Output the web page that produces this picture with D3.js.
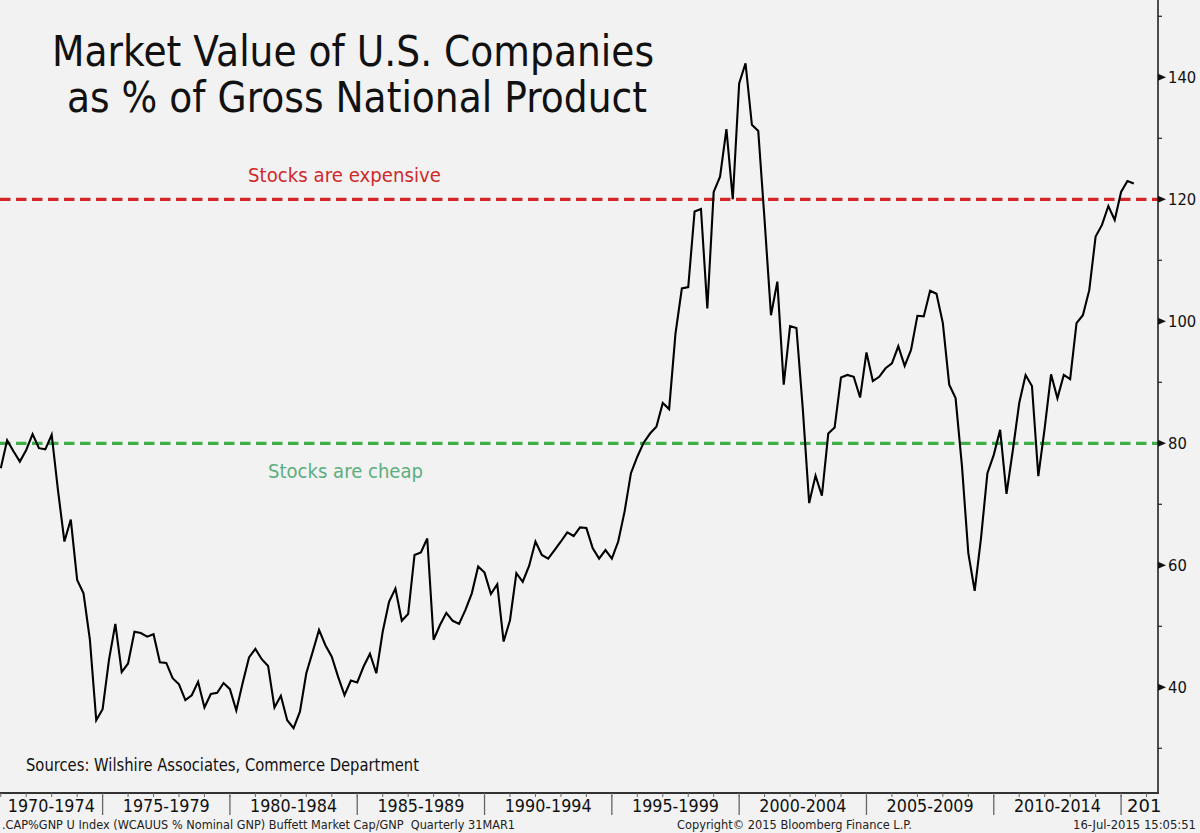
<!DOCTYPE html>
<html><head><meta charset="utf-8">
<script src="https://cdn.jsdelivr.net/npm/d3@7"></script>
<style>html,body{margin:0;padding:0;background:#f2f2f2;}svg{display:block;}</style>
</head><body>
<svg id="chart" width="1200" height="833"></svg>
<script>
// ---- data ----
const startYear = 1970, startQuarter = 4; // first observation: Q4 1970 (quarter-end)
const values = [
  75.9, 80.5, 78.7, 77.0, 78.9, 81.5, 79.2, 79.0, 81.4, 72.2,
  63.9, 67.5, 57.6, 55.4, 47.8, 34.6, 36.4, 44.5, 50.4, 42.5,
  43.9, 49.1, 48.9, 48.3, 48.7, 44.1, 44.0, 41.5, 40.5, 37.9,
  38.7, 40.9, 36.7, 38.9, 39.1, 40.7, 39.7, 36.2, 40.7, 44.9,
  46.3, 44.6, 43.5, 36.7, 38.6, 34.6, 33.3, 36.0, 42.3, 45.8,
  49.4, 46.9, 45.0, 41.7, 38.7, 41.1, 40.8, 43.4, 45.5, 42.3,
  49.1, 54.0, 56.2, 50.9, 52.0, 61.7, 62.1, 64.4, 47.8, 50.2,
  52.2, 50.9, 50.4, 52.7, 55.4, 59.8, 58.8, 55.3, 56.9, 47.5,
  51.0, 58.7, 57.3, 59.9, 63.9, 61.7, 61.1, 62.5, 63.9, 65.4,
  64.8, 66.2, 66.1, 62.8, 61.1, 62.5, 61.1, 63.9, 68.8, 75.1,
  77.8, 80.1, 81.6, 82.7, 86.6, 85.6, 98.0, 105.4, 105.6, 118.0,
  118.4, 102.1, 121.2, 123.7, 131.5, 120.0, 139.0, 142.3, 132.2, 131.2,
  116.5, 101.0, 106.5, 89.6, 99.2, 98.9, 85.6, 70.2, 74.7, 71.4,
  81.6, 82.6, 90.8, 91.2, 90.9, 87.5, 94.9, 90.2, 90.9, 92.3,
  93.1, 95.9, 92.7, 95.3, 100.9, 100.8, 105.0, 104.5, 99.7, 89.6,
  87.4, 76.3, 62.0, 55.8, 64.5, 75.1, 78.1, 82.2, 71.7, 78.9,
  86.6, 91.2, 89.4, 74.6, 82.5, 91.3, 87.4, 91.2, 90.5, 99.7,
  101.0, 105.1, 113.9, 115.8, 118.9, 116.6, 121.2, 123.0, 122.6
];
const periodStarts = [1970, 1975, 1980, 1985, 1990, 1995, 2000, 2005, 2010, 2015];
const periodLabels = ["1970-1974", "1975-1979", "1980-1984", "1985-1989", "1990-1994",
                      "1995-1999", "2000-2004", "2005-2009", "2010-2014", "201"];
const majorTicks = [40, 60, 80, 100, 120, 140];
const minorTicks = [30, 50, 70, 90, 110, 130, 150];
const thresholdValues = [120, 80];
const thresholdLabels = ["Stocks are expensive", "Stocks are cheap"];
const titleLines = ["Market Value of U.S. Companies", "as % of Gross National Product"];
const sourceText = "Sources: Wilshire Associates, Commerce Department";
const footerLeft = ".CAP%GNP U Index (WCAUUS % Nominal GNP) Buffett Market Cap/GNP  Quarterly 31MAR1";
const footerMid = "Copyright\u00A9 2015 Bloomberg Finance L.P.";
const footerRight = "16-Jul-2015 15:05:51";

// ---- layout ----
const plotR = 1158, plotB = 793;
const FONT = "'DejaVu Sans', Verdana, sans-serif";
const svg = d3.select("#chart");
svg.append("rect").attr("width", 1200).attr("height", 833).attr("fill", "#f2f2f2");

const x = d3.scaleLinear().domain([1970.97, 2016.45]).range([0, plotR]);
const y = d3.scaleLinear().domain([22.67, 152.67]).range([plotB, 0]);

const data = values.map((v, i) => {
  const q = startQuarter - 1 + i;
  const yr = startYear + Math.floor(q / 4);
  return { t: yr + (q % 4 + 1) / 4, v };
});

svg.append("clipPath").attr("id", "plotclip")
  .append("rect").attr("x", 0).attr("y", 0).attr("width", plotR).attr("height", plotB);

// title
const titleX = [52, 67], titleY = [66, 111.5], titleW = [602, 580];
svg.selectAll("text.title").data(titleLines).join("text").attr("class", "title")
  .attr("x", (d, i) => titleX[i]).attr("y", (d, i) => titleY[i])
  .attr("textLength", (d, i) => titleW[i]).attr("lengthAdjust", "spacingAndGlyphs")
  .attr("font-family", FONT).attr("font-size", 42).attr("fill", "#111")
  .text(d => d);

// threshold lines
const thColors = ["#d42626", "#3fae48"];
const thTextColors = ["#cf2a2a", "#5cae7d"];
const thTextX = [248, 268], thTextY = [181.5, 478], thTextW = [193, 155];
const g = svg.append("g").attr("clip-path", "url(#plotclip)");
g.selectAll("line.th").data(thresholdValues).join("line").attr("class", "th")
  .attr("x1", 0).attr("x2", plotR)
  .attr("y1", d => y(d)).attr("y2", d => y(d))
  .attr("stroke", (d, i) => thColors[i]).attr("stroke-width", 3.2)
  .attr("stroke-dasharray", "10.5,5.5");
svg.selectAll("text.thl").data(thresholdLabels).join("text").attr("class", "thl")
  .attr("x", (d, i) => thTextX[i]).attr("y", (d, i) => thTextY[i])
  .attr("textLength", (d, i) => thTextW[i]).attr("lengthAdjust", "spacingAndGlyphs")
  .attr("font-family", FONT).attr("font-size", 20)
  .attr("fill", (d, i) => thTextColors[i]).text(d => d);

// data line
const line = d3.line().x(d => x(d.t)).y(d => y(d.v));
g.append("path").datum(data).attr("d", line)
  .attr("fill", "none").attr("stroke", "#000").attr("stroke-width", 2.1)
  .attr("stroke-linejoin", "miter");

// sources
svg.append("text").attr("x", 26).attr("y", 771)
  .attr("textLength", 393).attr("lengthAdjust", "spacingAndGlyphs")
  .attr("font-family", FONT).attr("font-size", 17).attr("fill", "#111")
  .text(sourceText);

// right axis
svg.append("line").attr("x1", plotR).attr("x2", plotR).attr("y1", 0).attr("y2", plotB + 1)
  .attr("stroke", "#222").attr("stroke-width", 1.6);
svg.selectAll("path.maj").data(majorTicks).join("path").attr("class", "maj")
  .attr("d", d => `M${plotR},${y(d) - 3.5}L${plotR + 8},${y(d)}L${plotR},${y(d) + 3.5}Z`)
  .attr("fill", "#111");
svg.selectAll("line.min").data(minorTicks).join("line").attr("class", "min")
  .attr("x1", plotR).attr("x2", plotR + 4).attr("y1", d => y(d)).attr("y2", d => y(d))
  .attr("stroke", "#222").attr("stroke-width", 1.2);
svg.selectAll("text.yl").data(majorTicks).join("text").attr("class", "yl")
  .attr("x", 1168).attr("y", d => y(d)).attr("dy", "0.36em")
  .attr("font-family", FONT).attr("font-size", 15.5).attr("fill", "#111")
  .attr("textLength", d => String(d).length * 9.4).attr("lengthAdjust", "spacingAndGlyphs")
  .text(d => d);

// bottom axis
svg.append("line").attr("x1", 0).attr("x2", plotR + 0.8).attr("y1", plotB).attr("y2", plotB)
  .attr("stroke", "#333").attr("stroke-width", 2);
const years = d3.range(1971, 2017);
svg.selectAll("line.yt").data(years).join("line").attr("class", "yt")
  .attr("x1", d => x(d)).attr("x2", d => x(d)).attr("y1", plotB).attr("y2", plotB + 4)
  .attr("stroke", "#666").attr("stroke-width", 1);
svg.selectAll("line.sep").data(periodStarts.filter(d => x(d) > 0 && x(d) < plotR)).join("line").attr("class", "sep")
  .attr("x1", d => x(d)).attr("x2", d => x(d)).attr("y1", plotB + 2).attr("y2", plotB + 22)
  .attr("stroke", "#666").attr("stroke-width", 1.3);
svg.selectAll("text.xl").data(periodLabels).join("text").attr("class", "xl")
  .each(function (d, i) {
    const a = Math.max(0, x(periodStarts[i]));
    const bRaw = x(periodStarts[i] + 5);
    const el = d3.select(this);
    if (bRaw > plotR) {
      el.attr("x", a + 6).attr("text-anchor", "start");
    } else {
      el.attr("x", (a + bRaw) / 2).attr("text-anchor", "middle")
        .attr("textLength", 87).attr("lengthAdjust", "spacingAndGlyphs");
    }
  })
  .attr("y", 811.5).attr("font-family", FONT).attr("font-size", 18).attr("fill", "#111")
  .text(d => d);

// footer
const footer = [footerLeft, footerMid, footerRight];
const footX = [2, 677, 1196], footW = [513, 235, 123], footAnchor = ["start", "start", "end"];
svg.selectAll("text.ft").data(footer).join("text").attr("class", "ft")
  .attr("x", (d, i) => footX[i]).attr("y", 828.5)
  .attr("text-anchor", (d, i) => footAnchor[i])
  .attr("textLength", (d, i) => footW[i]).attr("lengthAdjust", "spacingAndGlyphs")
  .attr("font-family", FONT).attr("font-size", 12).attr("fill", "#222")
  .style("white-space", "pre").text(d => d);
</script>
</body></html>
